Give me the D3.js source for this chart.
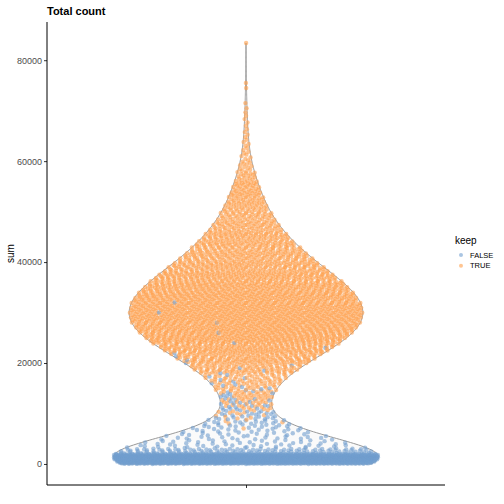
<!DOCTYPE html>
<html>
<head>
<meta charset="utf-8">
<script src="https://cdn.jsdelivr.net/npm/d3@7"></script>
<style>
    body { margin: 0; background: #fff; }
    text { font-family: "Liberation Sans", Arial, sans-serif; }
</style>
</head>
<body>
<div id="chart"></div>
<script>
// Histogram of the "sum" column: bin edges and cells per bin
const binEdges = [
    0, 1000, 2000, 3000, 4000, 5000, 6000, 7000, 8000, 9000,
    10000, 11000, 12000, 13000, 14000, 15000, 16000, 18000, 20000, 22000,
    24000, 26000, 28000, 30000, 32000, 34000, 36000, 38000, 40000, 42000,
    44000, 46000, 48000, 50000, 52000, 54000, 56000, 58000, 60000, 62000,
    64000, 66000, 68000, 70000, 72000, 74000, 76000, 78000, 80000, 82000,
    84800
];

const falseCounts = [
    560, 600, 110, 35, 26, 22, 20, 19, 16, 14,
    11, 9, 7, 6, 5, 4, 6, 4, 3, 2,
    1, 1, 1, 1, 0, 0, 0, 0, 0, 0,
    0, 0, 0, 0, 0, 0, 0, 0, 0, 0,
    0, 0, 0, 0, 0, 0, 0, 0, 0, 0
];

const trueCounts = [
    0, 0, 0, 0, 0, 0, 0, 1, 4, 6,
    9, 12, 15, 17, 19, 21, 54, 96, 141, 188,
    235, 255, 265, 263, 252, 228, 196, 160, 128, 106,
    88, 66, 50, 42, 35, 28, 18, 11, 7, 5,
    4, 3, 3, 2, 0, 2, 0, 0, 0, 1
];

const yTicks = [0, 20000, 40000, 60000, 80000];
const keepLevels = ["FALSE", "TRUE"];
const keepColors = ["#729ECE", "#FF9E4A"];

const chartTitle = "Total count";
const yLabel = "sum";
const legendTitle = "keep";

const size = { width: 504, height: 504 };
const panel = { left: 47, right: 445, top: 22, bottom: 485 };
const bandwidth = 3800;
const pointRadius = 2.2;

function vanDerCorput(i) {
    let r = 0, f = 0.5;
    while (i > 0) {
        r += f * (i & 1);
        i >>= 1;
        f /= 2;
    }
    return r;
}

function buildCells() {
    const cells = [];
    for (let i = 0; i < binEdges.length - 1; i++) {
        const lo = binEdges[i], hi = binEdges[i + 1];
        const nFalse = falseCounts[i];
        const n = nFalse + trueCounts[i];
        for (let j = 0; j < n; j++) {
            const isFalse = Math.floor((j + 1) * nFalse / n) > Math.floor(j * nFalse / n);
            cells.push({
                sum: lo + (j + 0.5) / n * (hi - lo),
                keep: isFalse ? "FALSE" : "TRUE"
            });
        }
    }
    return cells;
}

function densityGrid(values, lo, hi, n) {
    const grid = [];
    const k = 1 / (bandwidth * Math.sqrt(2 * Math.PI));
    for (let g = 0; g < n; g++) {
        const v = lo + (hi - lo) * g / (n - 1);
        let s = 0;
        for (const x of values) {
            const z = (v - x) / bandwidth;
            s += Math.exp(-0.5 * z * z);
        }
        grid.push({ v: v, d: s * k / values.length });
    }
    return grid;
}

function plot() {
    const cells = buildCells();
    const values = cells.map(c => c.sum);
    const [minV, maxV] = d3.extent(values);
    const span = maxV - minV;

    const y = d3.scaleLinear()
        .domain([minV - 0.05 * span, maxV + 0.05 * span])
        .range([panel.bottom, panel.top]);

    // one discrete position, ggplot expands 0.6 either side
    const x = d3.scaleLinear()
        .domain([0.4, 1.6])
        .range([panel.left, panel.right]);
    const unit = x(1) - x(0);
    const cx = x(1);

    const color = d3.scaleOrdinal().domain(keepLevels).range(keepColors);

    const grid = densityGrid(values, minV, maxV, 512);
    const dMax = d3.max(grid, g => g.d);
    const halfWidth = d3.scaleLinear()
        .domain([0, dMax])
        .range([0, 0.4 * unit]);

    const gridV = grid.map(g => g.v);
    const gridD = grid.map(g => g.d);
    const densAt = d3.scaleLinear().domain(gridV).range(gridD).clamp(true);

    // quasirandom offsets: van der Corput by rank of the value
    const order = d3.range(cells.length).sort((a, b) => cells[a].sum - cells[b].sum || a - b);
    order.forEach((idx, rank) => {
        const c = cells[idx];
        c.offset = (vanDerCorput(rank + 1) * 2 - 1) * halfWidth(densAt(c.sum));
    });

    const drawOrder = d3.range(cells.length)
        .sort((a, b) => vanDerCorput(a + 1) - vanDerCorput(b + 1));

    const svg = d3.select("#chart").append("svg")
        .attr("width", size.width)
        .attr("height", size.height);

    // violin
    const area = d3.area()
        .x0(g => cx - halfWidth(g.d))
        .x1(g => cx + halfWidth(g.d))
        .y(g => y(g.v));

    svg.append("path")
        .datum(grid)
        .attr("d", area)
        .attr("fill", "#fafafa")
        .attr("stroke", "#999999")
        .attr("stroke-width", 1);

    svg.append("g")
        .selectAll("circle")
        .data(drawOrder.map(i => cells[i]))
        .join("circle")
        .attr("cx", c => cx + c.offset)
        .attr("cy", c => y(c.sum))
        .attr("r", pointRadius)
        .attr("fill", c => color(c.keep))
        .attr("fill-opacity", 0.6);

    // y axis
    const yAxis = d3.axisLeft(y)
        .tickValues(yTicks)
        .tickFormat(d3.format("d"))
        .tickSize(3)
        .tickPadding(2);

    const gy = svg.append("g")
        .attr("transform", `translate(${panel.left},0)`)
        .call(yAxis);
    gy.select(".domain").remove();
    gy.selectAll(".tick line").attr("stroke", "#333333");
    gy.selectAll(".tick text")
        .attr("fill", "#4d4d4d")
        .style("font-size", "9px");
    svg.append("line")
        .attr("x1", panel.left).attr("x2", panel.left)
        .attr("y1", panel.top).attr("y2", panel.bottom)
        .attr("stroke", "#000").attr("stroke-width", 1);

    // x axis
    const xAxis = d3.axisBottom(x)
        .tickValues([1])
        .tickFormat("")
        .tickSize(3);
    const gx = svg.append("g")
        .attr("transform", `translate(0,${panel.bottom})`)
        .call(xAxis);
    gx.select(".domain").remove();
    gx.selectAll(".tick line").attr("stroke", "#333333");
    svg.append("line")
        .attr("x1", panel.left).attr("x2", panel.right)
        .attr("y1", panel.bottom).attr("y2", panel.bottom)
        .attr("stroke", "#000").attr("stroke-width", 1);

    // title and label
    svg.append("text")
        .attr("x", panel.left)
        .attr("y", 15)
        .style("font-size", "11px")
        .style("font-weight", "bold")
        .text(chartTitle);

    svg.append("text")
        .attr("transform", `translate(14,${(panel.top + panel.bottom) / 2}) rotate(-90)`)
        .attr("text-anchor", "middle")
        .style("font-size", "10px")
        .text(yLabel);

    // legend
    const legend = svg.append("g").attr("transform", "translate(455,0)");
    legend.append("text")
        .attr("x", 0)
        .attr("y", 244)
        .style("font-size", "10px")
        .text(legendTitle);

    keepLevels.forEach((level, i) => {
        const ky = 255 + i * 10.7;
        legend.append("circle")
            .attr("cx", 6)
            .attr("cy", ky)
            .attr("r", 2)
            .attr("fill", color(level))
            .attr("fill-opacity", 0.6);
        legend.append("text")
            .attr("x", 15)
            .attr("y", ky + 2.7)
            .style("font-size", "7.5px")
            .text(level);
    });
}

plot();
</script>
</body>
</html>
